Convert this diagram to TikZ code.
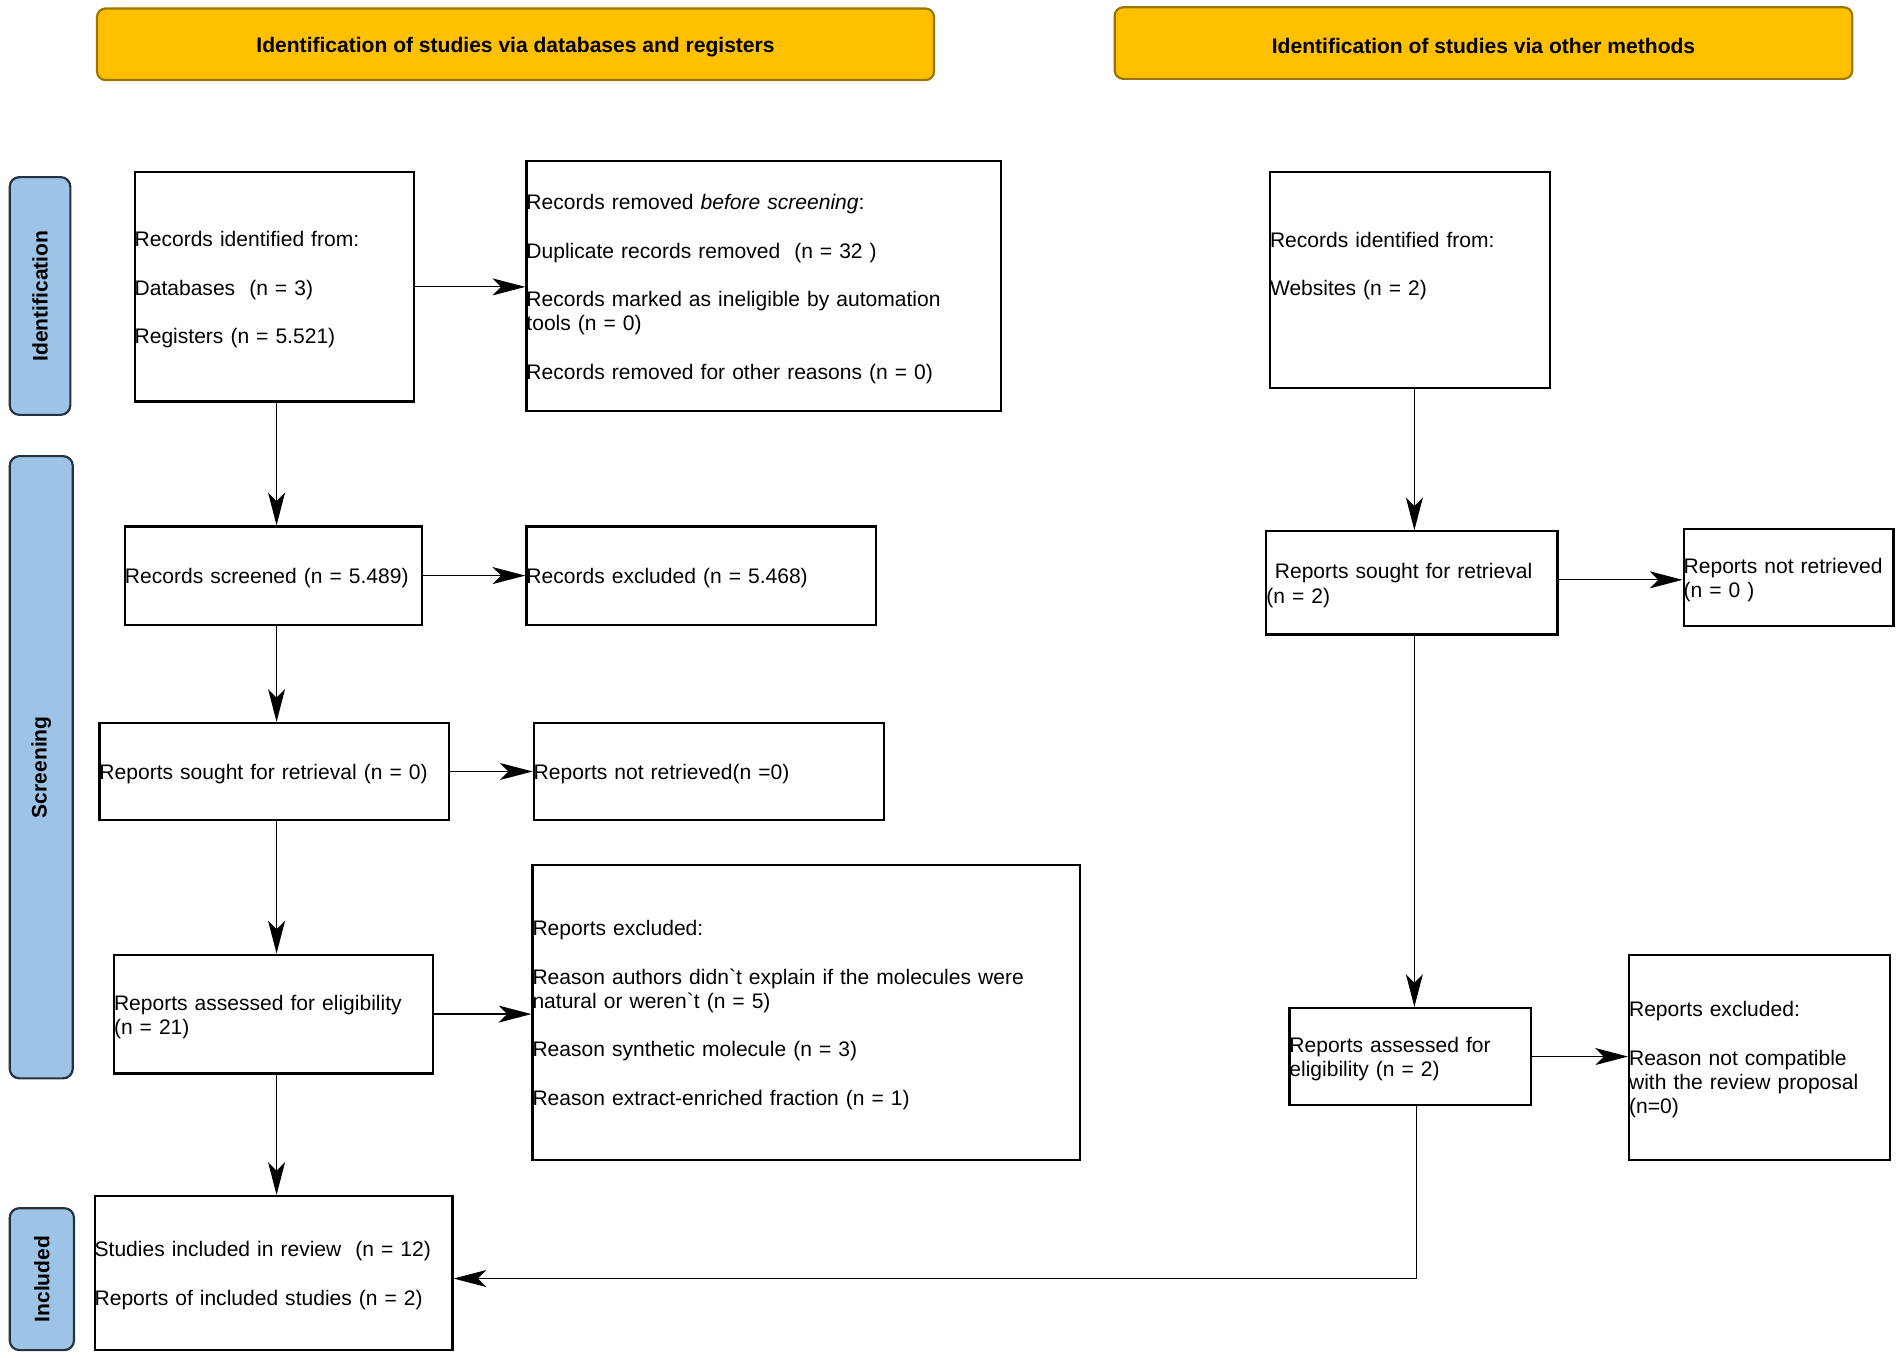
\documentclass[tikz,border=0pt]{standalone}
\usepackage{fontspec}
\setmainfont{Liberation Sans}[Ligatures=TeXOff]
\usetikzlibrary{arrows.meta,calc}
\definecolor{hdrfill}{HTML}{FFC000}
\definecolor{hdrline}{HTML}{9A7500}
\definecolor{sidefill}{HTML}{9DC3E6}
\definecolor{sideline}{HTML}{26313D}
\newcommand{\fsz}{\fontsize{17.35pt}{20pt}\selectfont}
\newcommand{\tp}{\rule{0pt}{17pt}}
\begin{document}
\begin{tikzpicture}[x=1pt,y=-1pt,
  flowbox/.style={draw=black, line width=1.8pt, inner xsep=0pt, inner ysep=0pt, align=left, font=\fsz, fill=white},
  hdr/.style={draw=hdrline, fill=hdrfill, line width=1.8pt, rounded corners=7pt, font=\fsz\bfseries, inner sep=0pt},
  side/.style={draw=sideline, fill=sidefill, line width=1.8pt, rounded corners=8pt, font=\fsz\bfseries, inner sep=0pt, rotate=90},
  arr/.style={line width=1pt, -{Stealth[length=27pt,width=14pt,inset=7pt]}}]
\useasboundingbox (0,0) rectangle (1568,1119.5);

% headers
\node[hdr, minimum width=690pt, minimum height=59pt] (h1) at (425,36.5) {\tp Identification of studies via databases and registers};
\node[hdr, minimum width=608pt, minimum height=59pt] (h2) at (1223,35.5) {\tp Identification of studies via other methods};

% side bars
\node[side, minimum width=196pt, minimum height=50pt] (s1) at (33,244) {Identification};
\node[side, minimum width=513pt, minimum height=52pt] (s2) at (34,632.5) {Screening};
\node[side, minimum width=117pt, minimum height=53pt] (s3) at (34.5,1054.5) {Included};

% left column
\node[flowbox, text width=230pt, minimum height=189pt] (b1) at (226,236.5)
  {\tp Records identified from:\\[20pt]Databases\ \ (n = 3)\\[20pt]Registers (n = 5.521)};
\node[flowbox, text width=391pt, minimum height=206pt] (b2) at (629.5,236)
  {\tp Records removed \textit{before screening}:\\[20pt]Duplicate records removed\ \ (n = 32 )\\[20pt]Records marked as ineligible by automation\\tools (n = 0)\\[20pt]Records removed for other reasons (n = 0)};
\node[flowbox, text width=245pt, minimum height=81pt] (b3) at (225.5,474.5) {\tp Records screened (n = 5.489)};
\node[flowbox, text width=288pt, minimum height=81pt] (b4) at (578,474.5) {\tp Records excluded (n = 5.468)};
\node[flowbox, text width=288pt, minimum height=80pt] (b5) at (226,636) {\tp Reports sought for retrieval (n = 0)};
\node[flowbox, text width=289pt, minimum height=80pt] (b6) at (584.5,636) {\tp Reports not retrieved(n =0)};
\node[flowbox, text width=263pt, minimum height=98pt] (b7) at (225.5,836) {\tp Reports assessed for eligibility\\(n = 21)};
\node[flowbox, text width=451pt, minimum height=243pt] (b8) at (664.5,834.5)
  {\tp Reports excluded:\\[20pt]Reason authors didn`t explain if the molecules were\\natural or weren`t (n = 5)\\[20pt]Reason synthetic molecule (n = 3)\\[20pt]Reason extract-enriched fraction (n = 1)};
\node[flowbox, text width=295pt, minimum height=127pt] (b9) at (225.5,1049.5)
  {\tp Studies included in review\ \ (n = 12)\\[20pt]Reports of included studies (n = 2)};

% right column
\node[flowbox, text width=231pt, minimum height=178pt] (b10) at (1162.5,231)
  {\tp Records identified from:\\[20pt]Websites (n = 2)\\[11pt]\mbox{}};
\node[flowbox, text width=240pt, minimum height=85pt] (b11) at (1164,480.5)
  {\tp\hspace*{7pt}Reports sought for retrieval\\(n = 2)};
\node[flowbox, text width=173pt, minimum height=80pt] (b12) at (1474.5,476)
  {\tp\mbox{Reports not retrieved}\\(n = 0 )};
\node[flowbox, text width=199pt, minimum height=80pt] (b13) at (1162.5,871)
  {\tp Reports assessed for\\eligibility (n = 2)};
\node[flowbox, text width=215pt, minimum height=169pt] (b14) at (1450.5,871.5)
  {\tp Reports excluded:\\[20pt]Reason not compatible\\with the review proposal\\(n=0)};

% connectors
\coordinate (xl) at (228,0);
\coordinate (xr) at (1166,0);
\coordinate (xr2) at (1168,0);
\draw[arr] (b1.south -| xl) -- (b3.north -| xl);
\draw[arr] (b1.east) -- (b1.east -| b2.west);
\draw[arr] (b3.south -| xl) -- (b5.north -| xl);
\draw[arr] (b3.east) -- (b3.east -| b4.west);
\draw[arr] (b5.south -| xl) -- (b7.north -| xl);
\draw[arr] (b5.east) -- (b5.east -| b6.west);
\draw[arr] (b7.south -| xl) -- (b9.north -| xl);
\draw[arr] (b7.east) -- (b7.east -| b8.west);
\draw[arr] (b10.south -| xr) -- (b11.north -| xr);
\draw[arr] ($(b11.east)+(0,-2.5)$) -- ($(b11.east -| b12.west)+(0,-2.5)$);
\draw[arr] (b11.south -| xr) -- (b13.north -| xr);
\draw[arr] (b13.east) -- (b13.east -| b14.west);
\draw[arr] (b13.south -| xr2) |- ($(b9.east)+(0,4.5)$);
\end{tikzpicture}
\end{document}
